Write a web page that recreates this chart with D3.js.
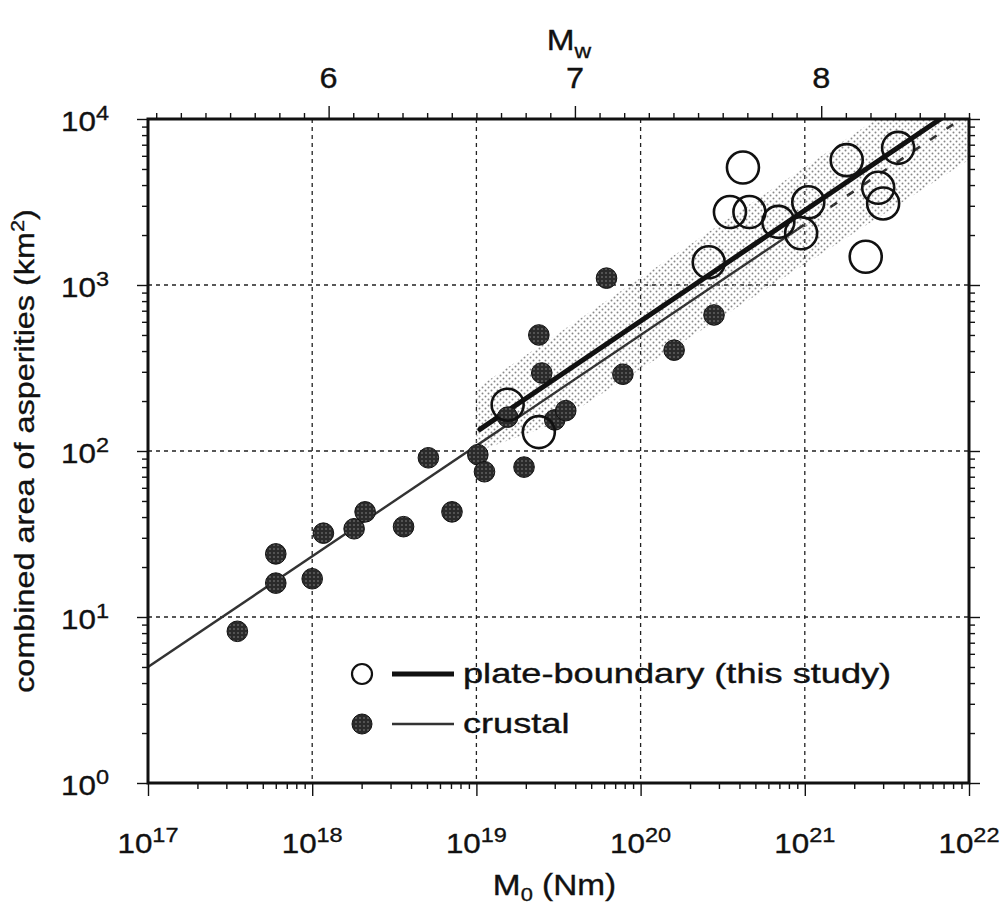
<!DOCTYPE html>
<html>
<head>
<meta charset="utf-8">
<script src="https://cdn.jsdelivr.net/npm/d3@7"></script>
<style>
  body { margin: 0; background: #fff; }
  text { font-family: 'Liberation Sans', Arial, Helvetica, sans-serif; fill: #111; stroke: #111; stroke-width: 0.35; }
</style>
</head>
<body>
<div id="chart"></div>
<script>
// ---- data ----
// crustal events: seismic moment (Nm) and combined asperity area (km^2)
const crustalM0 = [3.5e17, 6e17, 6e17, 1e18, 1.17e18, 1.8e18, 2.1e18, 3.6e18, 5.1e18, 7.1e18,
  1.02e19, 1.12e19, 1.55e19, 1.95e19, 2.4e19, 2.5e19, 3.0e19, 3.5e19, 6.2e19, 7.8e19, 1.6e20, 2.8e20];
const crustalArea = [8.2, 24, 16, 17, 32, 34, 43, 35, 91, 43,
  95, 75, 160, 80, 500, 295, 154, 175, 1100, 290, 405, 660];

// plate-boundary events (this study)
const plateM0 = [1.55e19, 2.4e19, 2.6e20, 3.5e20, 4.2e20, 4.6e20, 6.9e20, 9.5e20, 1.05e21,
  1.8e21, 2.35e21, 2.8e21, 3.0e21, 3.7e21];
const plateArea = [190, 130, 1370, 2750, 5100, 2750, 2400, 2050, 3150,
  5650, 1480, 3850, 3100, 6700];

// fitted lines, [M0, area] end points
const crustalFit = [[1e17, 5], [9e20, 2163]];
const crustalFitExt = [[9e20, 2163], [1e22, 10770]];
const plateFit = [[1.05e19, 135], [1e22, 13070]];
// shaded range around plate-boundary fit
const bandUpper = [[1e19, 238], [1e22, 23800]];
const bandLower = [[1e22, 5690], [3e19, 146], [1e19, 99]];

// axes
const xTickExps = [17, 18, 19, 20, 21, 22];
const yTickExps = [0, 1, 2, 3, 4];
const mwTicks = [6, 7, 8];

const legendItems = [
  { label: 'plate-boundary (this study)', kind: 'plate' },
  { label: 'crustal', kind: 'crustal' }
];

// ---- layout ----
const W = 1008, H = 904;
const margin = { left: 148, top: 119, right: 39, bottom: 121 };
const iw = W - margin.left - margin.right;
const ih = H - margin.top - margin.bottom;

const svg = d3.select('#chart').append('svg')
  .attr('width', W).attr('height', H);

const defs = svg.append('defs');
defs.append('clipPath').attr('id', 'plotclip')
  .append('rect').attr('width', iw).attr('height', ih);

const stip = defs.append('pattern').attr('id', 'stip')
  .attr('width', 6).attr('height', 6).attr('patternUnits', 'userSpaceOnUse');
stip.append('circle').attr('cx', 1.5).attr('cy', 1.5).attr('r', 1).attr('fill', '#888');
stip.append('circle').attr('cx', 4.5).attr('cy', 4.5).attr('r', 1).attr('fill', '#888');

const speck = defs.append('pattern').attr('id', 'speck')
  .attr('width', 4).attr('height', 4).attr('patternUnits', 'userSpaceOnUse');
speck.append('rect').attr('width', 4).attr('height', 4).attr('fill', '#2a2a2a');
speck.append('circle').attr('cx', 2).attr('cy', 2).attr('r', 0.7).attr('fill', '#9a9a9a');

const plot = svg.append('g')
  .attr('transform', `translate(${margin.left},${margin.top})`);

const x = d3.scaleLog().domain([1e17, 1e22]).range([0, iw]);
const y = d3.scaleLog().domain([1, 1e4]).range([ih, 0]);
// Mw = (log10 M0 - 9.1) / 1.5
const mw = d3.scaleLinear()
  .domain([(17 - 9.1) / 1.5, (22 - 9.1) / 1.5]).range([0, iw]);

// text with stretched glyphs, parts = [{t, fs, dy}]
function label(g, px, py, parts, o) {
  const t = g.append('text')
    .attr('transform', `translate(${px},${py})${o.rot ? ' rotate(-90)' : ''} scale(${o.sx},1)`)
    .attr('text-anchor', o.anchor || 'middle');
  parts.forEach(p => {
    t.append('tspan').attr('dy', p.dy || 0).style('font-size', p.fs + 'px').text(p.t);
  });
  return t;
}

// ---- grid ----
const gridG = plot.append('g');
gridG.selectAll('.gx').data(xTickExps.slice(1, -1)).enter()
  .append('line')
  .attr('x1', d => x(Math.pow(10, d))).attr('x2', d => x(Math.pow(10, d)))
  .attr('y1', 0).attr('y2', ih);
gridG.selectAll('.gy').data(yTickExps.slice(1, -1)).enter()
  .append('line')
  .attr('y1', d => y(Math.pow(10, d))).attr('y2', d => y(Math.pow(10, d)))
  .attr('x1', 0).attr('x2', iw);
gridG.selectAll('line')
  .attr('stroke', '#222').attr('stroke-width', 1.3).attr('stroke-dasharray', '4,4');

// ---- band and fits ----
const data_g = plot.append('g').attr('clip-path', 'url(#plotclip)');
const lineGen = d3.line().x(d => x(d[0])).y(d => y(d[1]));

data_g.append('path')
  .attr('d', lineGen(bandUpper.concat(bandLower)) + 'Z')
  .attr('fill', 'url(#stip)');

data_g.append('path').attr('d', lineGen(crustalFit))
  .attr('fill', 'none').attr('stroke', '#333').attr('stroke-width', 2.4);
data_g.append('path').attr('d', lineGen(crustalFitExt))
  .attr('fill', 'none').attr('stroke', '#333').attr('stroke-width', 2.6)
  .attr('stroke-dasharray', '8,12');
data_g.append('path').attr('d', lineGen(plateFit))
  .attr('fill', 'none').attr('stroke', '#111').attr('stroke-width', 5)
  .attr('stroke-linecap', 'round');

// ---- points ----
data_g.selectAll('.crustal').data(d3.range(crustalM0.length)).enter()
  .append('circle').attr('class', 'crustal')
  .attr('cx', i => x(crustalM0[i])).attr('cy', i => y(crustalArea[i]))
  .attr('r', 10.3).attr('fill', 'url(#speck)')
  .attr('stroke', '#111').attr('stroke-width', 1);

data_g.selectAll('.plate').data(d3.range(plateM0.length)).enter()
  .append('circle').attr('class', 'plate')
  .attr('cx', i => x(plateM0[i])).attr('cy', i => y(plateArea[i]))
  .attr('r', 16).attr('fill', 'none')
  .attr('stroke', '#111').attr('stroke-width', 2.6);

// ---- axes ticks ----
const logTicks = (lo, hi) => {
  const v = [];
  for (let e = lo; e < hi; e++) for (let m = 1; m < 10; m++) v.push(m * Math.pow(10, e));
  v.push(Math.pow(10, hi));
  return v;
};
const isMajor = d => Math.abs(Math.log10(d) - Math.round(Math.log10(d))) < 1e-9;

const xAxis = plot.append('g').attr('transform', `translate(0,${ih})`)
  .call(d3.axisBottom(x).tickValues(logTicks(17, 22)).tickFormat('').tickSizeOuter(0));
xAxis.selectAll('.tick line').attr('y2', d => isMajor(d) ? 13 : 6);

const yAxisL = plot.append('g')
  .call(d3.axisLeft(y).tickValues(logTicks(0, 4)).tickFormat('').tickSizeOuter(0));
yAxisL.selectAll('.tick line').attr('x2', d => isMajor(d) ? -11 : -6);

const yAxisR = plot.append('g').attr('transform', `translate(${iw},0)`)
  .call(d3.axisRight(y).tickValues(logTicks(0, 4)).tickFormat('').tickSizeOuter(0));
yAxisR.selectAll('.tick line').attr('x2', d => isMajor(d) ? 11 : 6);

const mwVals = d3.range(53, 87).map(v => v / 10);
const topAxis = plot.append('g')
  .call(d3.axisTop(mw).tickValues(mwVals).tickFormat('').tickSizeOuter(0));
topAxis.selectAll('.tick line')
  .attr('y2', d => Math.abs(d - Math.round(d)) < 1e-9 ? -13 : -6);

svg.selectAll('.domain').remove();
svg.selectAll('.tick line').attr('stroke', '#111').attr('stroke-width', 1.4);

plot.append('rect').attr('width', iw).attr('height', ih)
  .attr('fill', 'none').attr('stroke', '#111').attr('stroke-width', 3);

// ---- tick labels ----
const labG = plot.append('g');
xTickExps.forEach(e => {
  label(labG, x(Math.pow(10, e)), ih + 70, [
    { t: '10', fs: 28 }, { t: String(e), fs: 21, dy: -11 }
  ], { sx: 1.12 });
});
yTickExps.forEach(e => {
  label(labG, -39, y(Math.pow(10, e)) + 12, [
    { t: '10', fs: 28 }, { t: String(e), fs: 21, dy: -11 }
  ], { sx: 1.12, anchor: 'end' });
});
mwTicks.forEach(m => {
  label(labG, mw(m), -31, [{ t: String(m), fs: 29 }], { sx: 1.12 });
});

// ---- axis titles ----
label(labG, iw / 2 - 4, ih + 112, [
  { t: 'M', fs: 29 }, { t: '0', fs: 19, dy: 6 }, { t: ' (Nm)', fs: 29, dy: -6 }
], { sx: 1.15 });
label(labG, mw(7) - 6, -69, [
  { t: 'M', fs: 29 }, { t: 'w', fs: 20, dy: 8 }
], { sx: 1.15 });
label(labG, -114, ih / 2, [
  { t: 'combined area of asperities (km', fs: 27 }, { t: '2', fs: 18, dy: -10 }, { t: ')', fs: 27, dy: 10 }
], { sx: 1.2, rot: true });

// ---- legend ----
const lg = plot.append('g').attr('transform', `translate(${362 - margin.left},${674 - margin.top})`);
legendItems.forEach((d, i) => {
  const row = lg.append('g').attr('transform', `translate(0,${i * 50})`);
  if (d.kind === 'plate') {
    row.append('circle').attr('r', 10).attr('fill', 'none')
      .attr('stroke', '#111').attr('stroke-width', 2.2);
    row.append('line').attr('x1', 30).attr('x2', 92)
      .attr('stroke', '#111').attr('stroke-width', 5);
  } else {
    row.append('circle').attr('r', 10).attr('fill', 'url(#speck)')
      .attr('stroke', '#111').attr('stroke-width', 1);
    row.append('line').attr('x1', 30).attr('x2', 92)
      .attr('stroke', '#333').attr('stroke-width', 2.4);
  }
  label(row, 101, 9, [{ t: d.label, fs: 27 }], { sx: 1.34, anchor: 'start' });
});
</script>
</body>
</html>
